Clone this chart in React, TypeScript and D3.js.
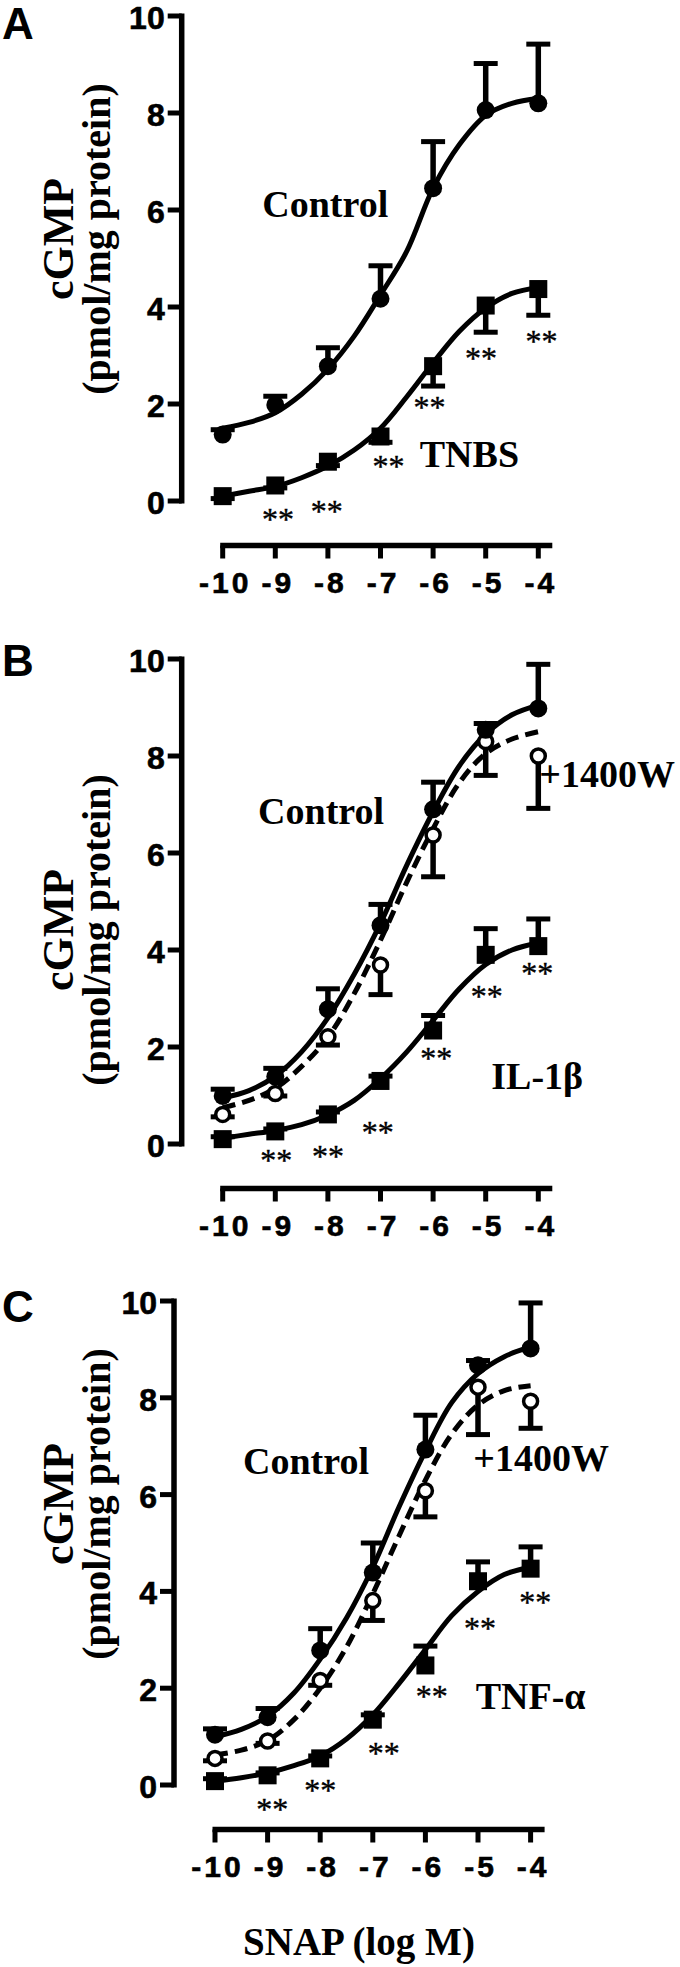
import React from "react";
import * as d3 from "d3";

// ---------- data ----------
const DOSES = [-10, -9, -8, -7, -6, -5, -4];
const X_TICKS = [-10, -9, -8, -7, -6, -5, -4];
const Y_TICKS = [0, 2, 4, 6, 8, 10];
const FIT_X = [-10, -9.5, -9, -8.5, -8, -7.5, -7, -6.5, -6, -5.5, -5, -4.5, -4];

// Panel A
const A_CONTROL = [1.37, 1.98, 2.78, 4.17, 6.45, 8.06, 8.2];
const A_CONTROL_ERR = [0.1, 0.18, 0.38, 0.68, 0.96, 0.96, 1.22];
const A_CONTROL_FIT = [1.5, 1.62, 1.82, 2.2, 2.72, 3.4, 4.25, 5.15, 6.45, 7.35, 7.95, 8.2, 8.3];
const A_TNBS = [0.1, 0.32, 0.81, 1.33, 2.78, 4.03, 4.37];
const A_TNBS_ERR = [0.05, 0.05, 0.08, 0.12, 0.41, 0.55, 0.54];
const A_TNBS_FIT = [0.1, 0.2, 0.3, 0.48, 0.72, 1.05, 1.5, 2.15, 2.85, 3.5, 3.98, 4.28, 4.4];
const A_STARS = [[-8.95, -0.29], [-8.02, -0.12], [-6.85, 0.8], [-6.07, 2.03], [-5.09, 3.04], [-3.94, 3.39]];

// Panel B
const B_CONTROL = [0.99, 1.39, 2.78, 4.51, 6.9, 8.54, 8.98];
const B_CONTROL_ERR = [0.14, 0.17, 0.42, 0.43, 0.56, 0.13, 0.91];
const B_CONTROL_FIT = [0.95, 1.1, 1.4, 1.9, 2.6, 3.5, 4.55, 5.75, 6.85, 7.8, 8.45, 8.85, 9.05];
const B_1400W = [0.61, 1.04, 2.21, 3.69, 6.37, 8.3, 8.0];
const B_1400W_ERR = [0.05, 0.05, 0.17, 0.61, 0.86, 0.7, 1.08];
const B_1400W_FIT = [0.75, 0.9, 1.15, 1.6, 2.2, 3.1, 4.2, 5.4, 6.5, 7.45, 8.05, 8.35, 8.5];
const B_IL1B = [0.1, 0.26, 0.61, 1.3, 2.34, 3.9, 4.08];
const B_IL1B_ERR = [0.05, 0.05, 0.05, 0.1, 0.31, 0.54, 0.56];
const B_IL1B_FIT = [0.12, 0.2, 0.28, 0.4, 0.6, 0.9, 1.35, 1.9, 2.55, 3.2, 3.7, 4.0, 4.15];
const B_STARS = [[-8.98, -0.25], [-8.0, -0.17], [-7.05, 0.33], [-5.94, 1.86], [-4.98, 3.14], [-4.02, 3.6]];

// Panel C
const C_CONTROL = [1.04, 1.4, 2.78, 4.39, 6.93, 8.67, 9.02];
const C_CONTROL_ERR = [0.12, 0.18, 0.45, 0.61, 0.71, 0.1, 0.94];
const C_CONTROL_FIT = [1.0, 1.15, 1.42, 1.9, 2.6, 3.45, 4.5, 5.75, 6.9, 7.9, 8.5, 8.85, 9.05];
const C_1400W = [0.55, 0.91, 2.16, 3.81, 6.08, 8.22, 7.93];
const C_1400W_ERR = [0.05, 0.05, 0.1, 0.41, 0.54, 0.98, 0.56];
const C_1400W_FIT = [0.62, 0.72, 0.92, 1.35, 2.0, 2.85, 3.95, 5.15, 6.3, 7.25, 7.85, 8.15, 8.25];
const C_TNF = [0.08, 0.2, 0.55, 1.35, 2.47, 4.21, 4.47];
const C_TNF_ERR = [0.05, 0.05, 0.05, 0.1, 0.4, 0.4, 0.45];
const C_TNF_FIT = [0.08, 0.15, 0.25, 0.4, 0.6, 0.95, 1.45, 2.1, 2.8, 3.5, 4.0, 4.35, 4.5];
const C_STARS = [[-8.91, -0.41], [-8.0, -0.02], [-6.79, 0.75], [-5.88, 1.93], [-4.96, 3.32], [-3.91, 3.87]];

const Y_LABEL_1 = "cGMP";
const Y_LABEL_2 = "(pmol/mg protein)";
const X_LABEL = "SNAP (log M)";

// ---------- styling ----------
const SANS = "Arial, 'Liberation Sans', Helvetica, sans-serif";
const SERIF = "'Times New Roman', 'Liberation Serif', Times, serif";

type Series = {
  values: number[];
  err: number[];
  fit: number[];
  marker: "circle" | "square" | "open";
  dir: 1 | -1;
  dashed?: boolean;
};

type Label = { text: string; x: number; y: number; anchor: "start" | "middle" | "end" };

type PanelProps = {
  letter: string;
  letterY: number;
  x10: number;
  y0: number;
  y10: number;
  labelCy: number;
  series: Series[];
  stars: number[][];
  labels: Label[];
};

const PX_PER_DECADE = 52.6;

function Panel(p: PanelProps) {
  const x = d3.scaleLinear().domain([-10, -4]).range([p.x10, p.x10 + 6 * PX_PER_DECADE]);
  const y = d3.scaleLinear().domain([0, 10]).range([p.y0, p.y10]);
  const axisX = x(-10) - 41;
  const axisY = y(0) + 44.5;
  const line = d3
    .line<[number, number]>()
    .x((d) => x(d[0]))
    .y((d) => y(d[1]))
    .curve(d3.curveCatmullRom.alpha(0.5));

  return (
    <g>
      <text x={2} y={p.letterY} fontFamily={SANS} fontWeight="bold" fontSize={44}>
        {p.letter}
      </text>
      {/* y label */}
      <g transform={`translate(0, ${p.labelCy})`}>
        <text
          transform="translate(73,0) rotate(-90)"
          textAnchor="middle"
          fontFamily={SERIF}
          fontWeight="bold"
          fontSize={44}
        >
          {Y_LABEL_1}
        </text>
        <text
          transform="translate(110,0) rotate(-90)"
          textAnchor="middle"
          fontFamily={SERIF}
          fontWeight="bold"
          fontSize={40}
        >
          {Y_LABEL_2}
        </text>
      </g>
      {/* y axis */}
      <line x1={axisX} x2={axisX} y1={y(10) - 2.5} y2={y(0) + 2.5} stroke="#000" strokeWidth={5.5} />
      {Y_TICKS.map((t) => (
        <g key={"yt" + t}>
          <line x1={axisX - 14} x2={axisX} y1={y(t)} y2={y(t)} stroke="#000" strokeWidth={5} />
          <text
            x={axisX - 17}
            y={y(t) + 13}
            textAnchor="end"
            fontFamily={SANS}
            fontWeight="bold"
            fontSize={32}
            stroke="#000"
            strokeWidth={0.6}
          >
            {t}
          </text>
        </g>
      ))}
      {/* x axis */}
      <line x1={x(-10) - 2.5} x2={x(-4) + 14} y1={axisY} y2={axisY} stroke="#000" strokeWidth={5.5} />
      {X_TICKS.map((t) => (
        <g key={"xt" + t}>
          <line x1={x(t)} x2={x(t)} y1={axisY} y2={axisY + 13} stroke="#000" strokeWidth={5} />
          <text
            x={x(t) + 2.5}
            y={axisY + 47}
            textAnchor="middle"
            fontFamily={SANS}
            fontWeight="bold"
            fontSize={30}
            letterSpacing={3}
            stroke="#000"
            strokeWidth={0.6}
          >
            {String(t)}
          </text>
        </g>
      ))}
      {/* fitted curves */}
      {p.series.map((s, i) => (
        <path
          key={"fit" + i}
          d={line(FIT_X.map((fx, j) => [fx, s.fit[j]] as [number, number])) || ""}
          fill="none"
          stroke="#000"
          strokeWidth={5}
          strokeDasharray={s.dashed ? "13 7" : undefined}
        />
      ))}
      {/* error bars */}
      {p.series.map((s, i) =>
        DOSES.map((dx, j) => {
          const yv = y(s.values[j]);
          const ye = y(s.values[j] + s.dir * s.err[j]);
          return (
            <g key={"eb" + i + "-" + j}>
              <line x1={x(dx)} x2={x(dx)} y1={yv} y2={ye} stroke="#000" strokeWidth={5.5} />
              <line x1={x(dx) - 12} x2={x(dx) + 12} y1={ye} y2={ye} stroke="#000" strokeWidth={5} />
            </g>
          );
        })
      )}
      {/* markers */}
      {p.series.map((s, i) =>
        DOSES.map((dx, j) => {
          const cx = x(dx);
          const cy = y(s.values[j]);
          if (s.marker === "square")
            return <rect key={"m" + i + "-" + j} x={cx - 9} y={cy - 9} width={18} height={18} fill="#000" />;
          if (s.marker === "open")
            return (
              <circle key={"m" + i + "-" + j} cx={cx} cy={cy} r={7} fill="#fff" stroke="#000" strokeWidth={3.5} />
            );
          return <circle key={"m" + i + "-" + j} cx={cx} cy={cy} r={9} fill="#000" />;
        })
      )}
      {/* significance stars */}
      {p.stars.map((st, i) => (
        <text
          key={"st" + i}
          x={x(st[0])}
          y={y(st[1]) + 15}
          textAnchor="middle"
          fontFamily={SERIF}
          fontSize={32}
          stroke="#000"
          strokeWidth={0.4}
        >
          **
        </text>
      ))}
      {/* series labels */}
      {p.labels.map((l, i) => (
        <text
          key={"lb" + i}
          x={x(l.x)}
          y={y(l.y)}
          textAnchor={l.anchor}
          fontFamily={SERIF}
          fontWeight="bold"
          fontSize={38}
        >
          {l.text}
        </text>
      ))}
    </g>
  );
}

export default function App() {
  return (
    <svg
      width={680}
      height={1967}
      viewBox="0 0 680 1967"
      style={{ position: "absolute", left: 0, top: 0, background: "#fff" }}
    >
      <rect x={0} y={0} width={680} height={1967} fill="#fff" />
      <Panel
        letter="A"
        letterY={39}
        x10={222.7}
        y0={501}
        y10={16}
        labelCy={239}
        series={[
          { values: A_CONTROL, err: A_CONTROL_ERR, fit: A_CONTROL_FIT, marker: "circle", dir: 1 },
          { values: A_TNBS, err: A_TNBS_ERR, fit: A_TNBS_FIT, marker: "square", dir: -1 },
        ]}
        stars={A_STARS}
        labels={[
          { text: "Control", x: -8.05, y: 5.85, anchor: "middle" },
          { text: "TNBS", x: -5.31, y: 0.7, anchor: "middle" },
        ]}
      />
      <Panel
        letter="B"
        letterY={676}
        x10={222.7}
        y0={1144}
        y10={659}
        labelCy={930}
        series={[
          { values: B_1400W, err: B_1400W_ERR, fit: B_1400W_FIT, marker: "open", dir: -1, dashed: true },
          { values: B_CONTROL, err: B_CONTROL_ERR, fit: B_CONTROL_FIT, marker: "circle", dir: 1 },
          { values: B_IL1B, err: B_IL1B_ERR, fit: B_IL1B_FIT, marker: "square", dir: 1 },
        ]}
        stars={B_STARS}
        labels={[
          { text: "Control", x: -8.13, y: 6.59, anchor: "middle" },
          { text: "+1400W", x: -3.98, y: 7.37, anchor: "start" },
          { text: "IL-1β", x: -4.02, y: 1.13, anchor: "middle" },
        ]}
      />
      <Panel
        letter="C"
        letterY={1322}
        x10={215}
        y0={1785}
        y10={1301}
        labelCy={1504}
        series={[
          { values: C_1400W, err: C_1400W_ERR, fit: C_1400W_FIT, marker: "open", dir: -1, dashed: true },
          { values: C_CONTROL, err: C_CONTROL_ERR, fit: C_CONTROL_FIT, marker: "circle", dir: 1 },
          { values: C_TNF, err: C_TNF_ERR, fit: C_TNF_FIT, marker: "square", dir: 1 },
        ]}
        stars={C_STARS}
        labels={[
          { text: "Control", x: -8.27, y: 6.43, anchor: "middle" },
          { text: "+1400W", x: -5.09, y: 6.48, anchor: "start" },
          { text: "TNF-α", x: -4.0, y: 1.58, anchor: "middle" },
        ]}
      />
      <text x={359} y={1955} textAnchor="middle" fontFamily={SERIF} fontWeight="bold" fontSize={39}>
        {X_LABEL}
      </text>
    </svg>
  );
}
